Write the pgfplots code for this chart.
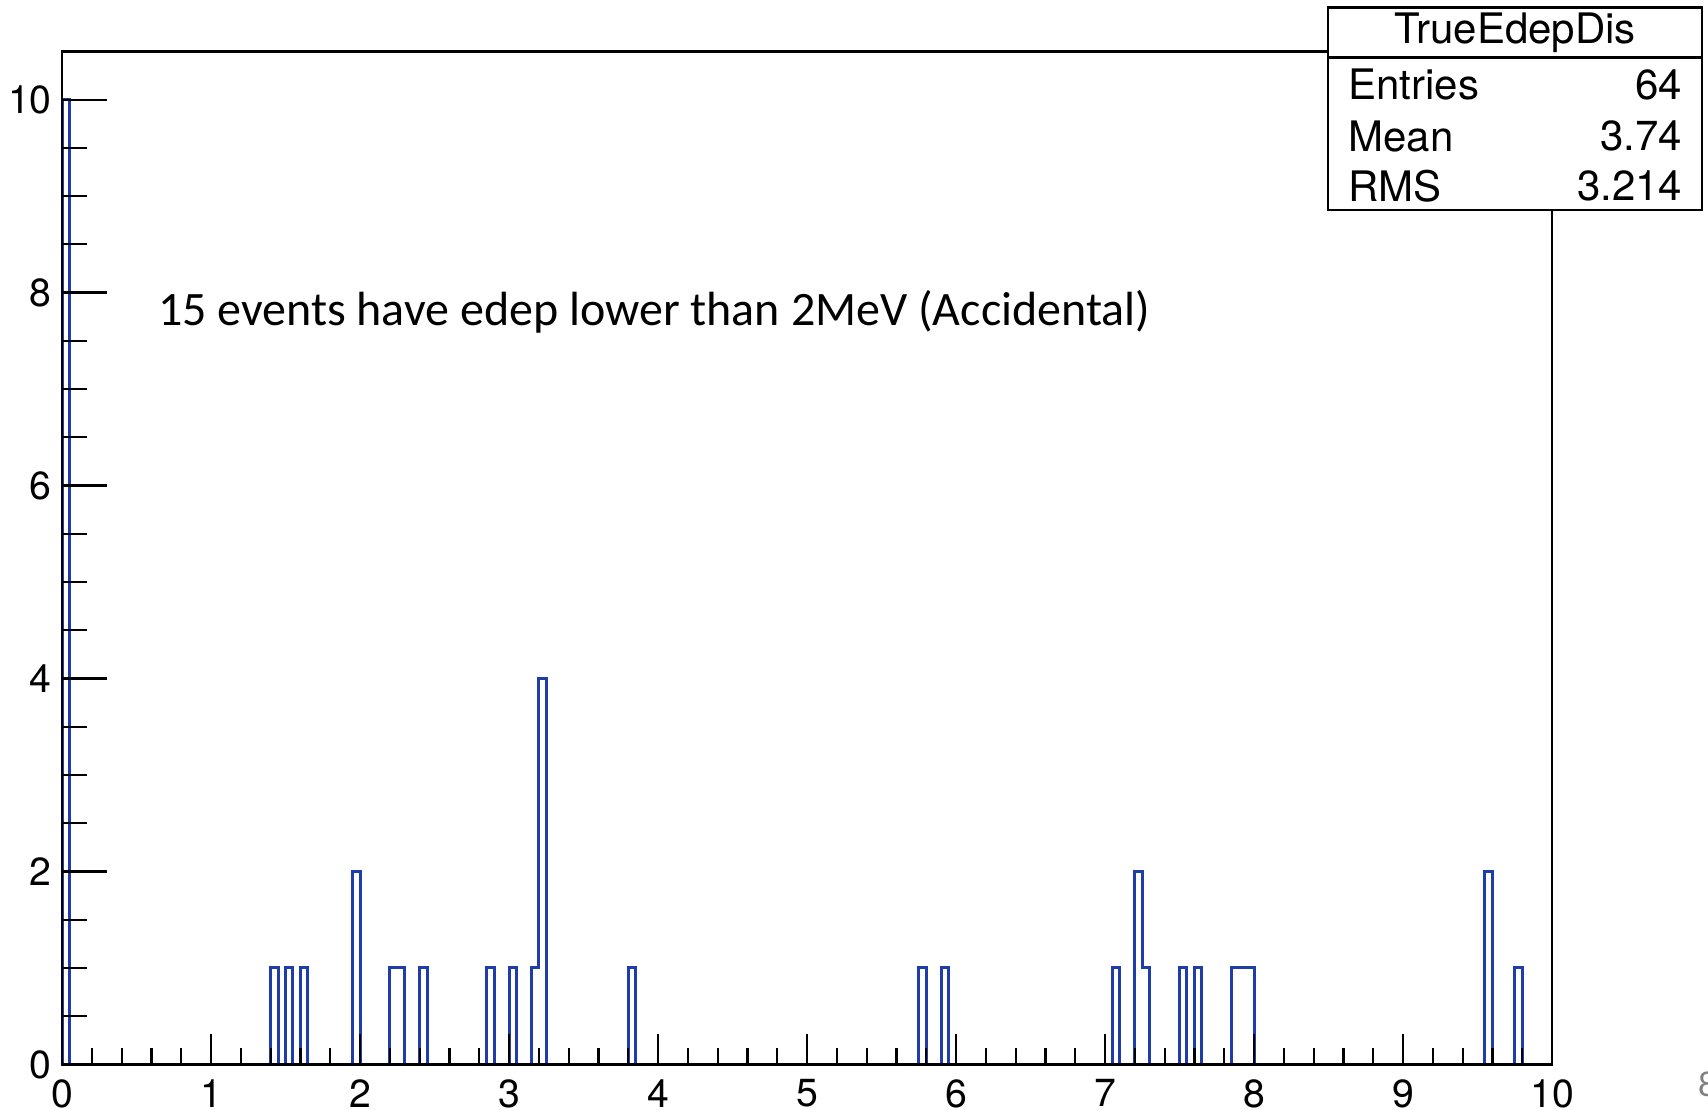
\documentclass[border=0pt]{standalone}
\usepackage{fontspec}
\setmainfont{TeX Gyre Heros}
\newfontfamily\slidefont{Carlito}
\usepackage{pgfplots}
\pgfplotsset{compat=1.18}
\definecolor{histblue}{RGB}{30,60,170}
\begin{document}
\begin{tikzpicture}
\useasboundingbox (0,0) rectangle (427pt,277.5pt);
% frame, x ticks and the histogram
\begin{axis}[
    at={(15.5pt,11.4pt)}, anchor=south west,
    scale only axis, width=372.5pt, height=253.25pt,
    xmin=0, xmax=10, ymin=0, ymax=10.5,
    xtick={0,1,...,10}, minor x tick num=4,
    ytick=\empty,
    xtick pos=bottom, tick align=inside,
    major tick length=7.5pt, minor tick length=4.2pt,
    axis line style={line width=0.6pt},
    every tick/.style={black, line width=0.55pt},
    xticklabel style={inner sep=0pt, yshift=-3.6pt, font=\fontsize{9.8}{11}\selectfont},
    /pgf/number format/assume math mode=true,
    axis on top,
    clip=false,
]
\addplot[const plot mark left, draw=histblue, line width=0.75pt] coordinates {
(0,0) (0,10) (0.05,0)
(1.40,1) (1.45,0)
(1.50,1) (1.55,0)
(1.60,1) (1.65,0)
(1.95,2) (2.00,0)
(2.20,1) (2.25,1) (2.30,0)
(2.40,1) (2.45,0)
(2.85,1) (2.90,0)
(3.00,1) (3.05,0)
(3.15,1) (3.20,4) (3.25,0)
(3.80,1) (3.85,0)
(5.75,1) (5.80,0)
(5.90,1) (5.95,0)
(7.05,1) (7.10,0)
(7.20,2) (7.25,1) (7.30,0)
(7.50,1) (7.55,0)
(7.60,1) (7.65,0)
(7.85,1) (7.90,1) (7.95,1) (8.00,0)
(9.55,2) (9.60,0)
(9.75,1) (9.80,0)
(10,0)
};
\end{axis}
% y ticks (longer than the x ones, as ROOT draws them)
\begin{axis}[
    at={(15.5pt,11.4pt)}, anchor=south west,
    scale only axis, width=372.5pt, height=253.25pt,
    xmin=0, xmax=10, ymin=0, ymax=10.5,
    xtick=\empty,
    ytick={0,2,...,10}, minor y tick num=3,
    ytick pos=left, tick align=inside,
    major tick length=11.3pt, minor tick length=6.2pt,
    axis line style={draw=none},
    every tick/.style={black, line width=0.55pt},
    yticklabel style={inner sep=0pt, xshift=-2.4pt, font=\fontsize{9.8}{11}\selectfont},
    /pgf/number format/assume math mode=true,
]
\end{axis}
% statistics box
\draw[line width=0.6pt, fill=white] (332pt,225pt) rectangle (425.5pt,275.6pt);
\draw[line width=0.6pt] (332pt,263.1pt) -- (425.5pt,263.1pt);
\node[font=\fontsize{10.5}{12}\selectfont] at (378.75pt,269.3pt) {TrueEdepDis};
\node[font=\fontsize{10.5}{12}\selectfont, anchor=west, inner sep=0pt] at (336.9pt,256.25pt) {Entries};
\node[font=\fontsize{10.5}{12}\selectfont, anchor=east, inner sep=0pt] at (420.75pt,256.25pt) {64};
\node[font=\fontsize{10.5}{12}\selectfont, anchor=west, inner sep=0pt] at (336.9pt,243.45pt) {Mean};
\node[font=\fontsize{10.5}{12}\selectfont, anchor=east, inner sep=0pt] at (420.75pt,243.45pt) {3.74};
\node[font=\fontsize{10.5}{12}\selectfont, anchor=west, inner sep=0pt] at (336.9pt,230.9pt) {RMS};
\node[font=\fontsize{10.5}{12}\selectfont, anchor=east, inner sep=0pt] at (420.75pt,230.9pt) {3.214};
% annotation from the slide
\node[font=\slidefont\fontsize{12}{14}\selectfont, anchor=base west, inner sep=0pt] at (39.3pt,196.1pt) {15 events have edep lower than 2MeV (Accidental)};
% slide number, cut by the page edge as in the slide
\node[font=\slidefont\fontsize{9}{10}\selectfont, text=gray, anchor=west, inner sep=0pt] at (424.3pt,6.5pt) {8};
\end{tikzpicture}
\end{document}
